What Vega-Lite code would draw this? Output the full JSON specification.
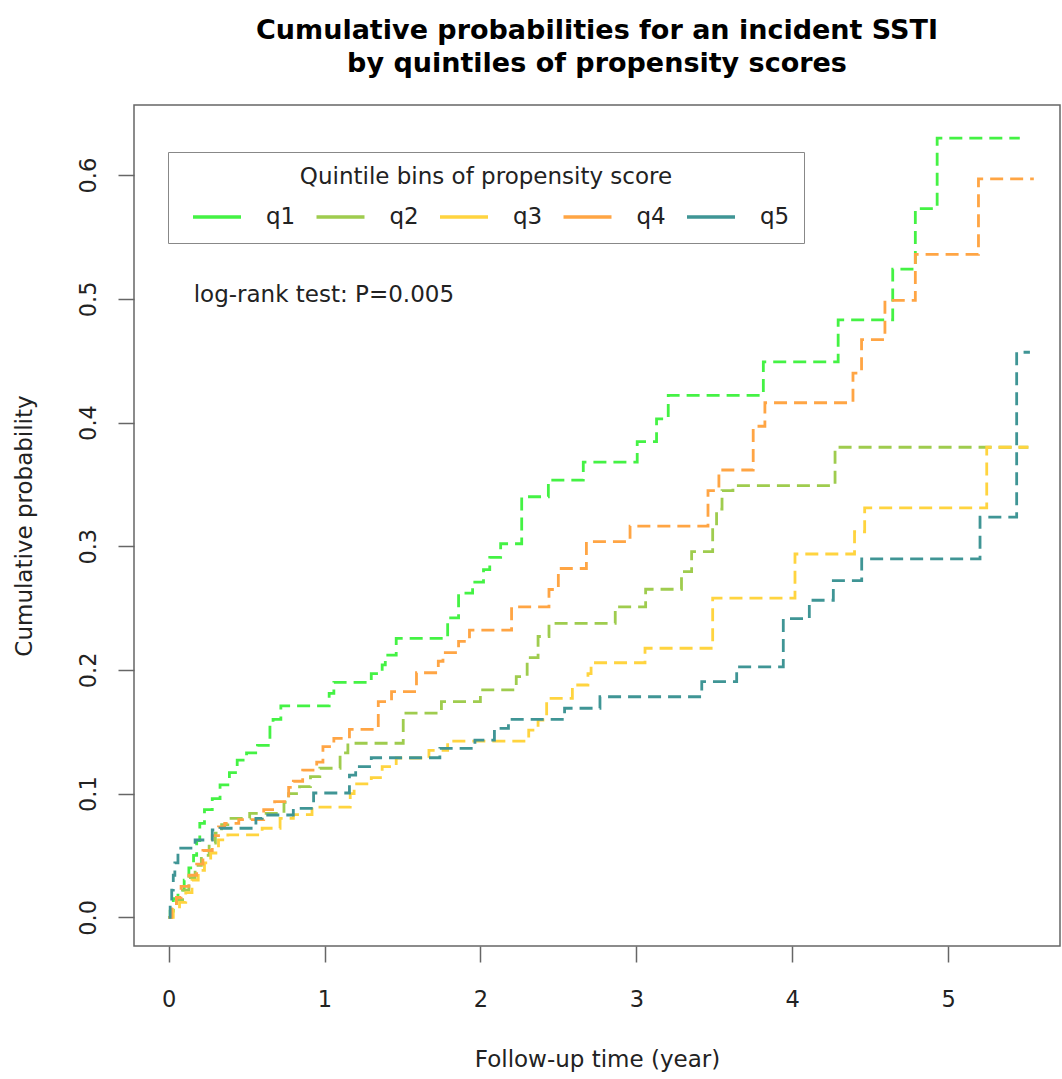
{
  "$schema": "https://vega.github.io/schema/vega-lite/v6.json",
  "autosize": "none",
  "width": 926,
  "height": 841,
  "padding": {"left": 134, "top": 105, "right": 2, "bottom": 133},
  "background": "white",
  "title": {
    "text": ["Cumulative probabilities for an incident SSTI", "by quintiles of propensity scores"],
    "font": "DejaVu Sans",
    "fontSize": 27,
    "fontWeight": "bold",
    "color": "#000000",
    "anchor": "middle",
    "lineHeight": 33,
    "offset": 27
  },
  "config": {
    "font": "DejaVu Sans",
    "view": {"stroke": "#666666", "strokeWidth": 1.5},
    "axis": {"grid": false, "domain": false, "labelFont": "DejaVu Sans", "titleFont": "DejaVu Sans", "labelColor": "#222222", "titleColor": "#222222", "tickColor": "#666666", "tickWidth": 1.5, "labelFontSize": 22.5, "titleFontSize": 23, "titleFontWeight": "normal", "labelFlush": false, "labelOverlap": false}
  },
  "layer": [
    {
      "data": {"values": [
        {"t":0,"p":0,"g":"q1"},{"t":0.01,"p":0.005,"g":"q1"},{"t":0.03,"p":0.015,"g":"q1"},{"t":0.06,"p":0.022,"g":"q1"},{"t":0.1,"p":0.03,"g":"q1"},{"t":0.13,"p":0.04,"g":"q1"},{"t":0.16,"p":0.05,"g":"q1"},{"t":0.18,"p":0.062,"g":"q1"},{"t":0.2,"p":0.076,"g":"q1"},{"t":0.23,"p":0.087,"g":"q1"},{"t":0.28,"p":0.096,"g":"q1"},{"t":0.33,"p":0.107,"g":"q1"},{"t":0.39,"p":0.117,"g":"q1"},{"t":0.44,"p":0.127,"g":"q1"},{"t":0.5,"p":0.133,"g":"q1"},{"t":0.57,"p":0.139,"g":"q1"},{"t":0.65,"p":0.155,"g":"q1"},{"t":0.67,"p":0.16,"g":"q1"},{"t":0.72,"p":0.171,"g":"q1"},{"t":1.03,"p":0.181,"g":"q1"},{"t":1.06,"p":0.19,"g":"q1"},{"t":1.3,"p":0.197,"g":"q1"},{"t":1.37,"p":0.204,"g":"q1"},{"t":1.39,"p":0.212,"g":"q1"},{"t":1.46,"p":0.2255,"g":"q1"},{"t":1.79,"p":0.242,"g":"q1"},{"t":1.86,"p":0.262,"g":"q1"},{"t":1.95,"p":0.271,"g":"q1"},{"t":2.02,"p":0.281,"g":"q1"},{"t":2.06,"p":0.291,"g":"q1"},{"t":2.13,"p":0.302,"g":"q1"},{"t":2.265,"p":0.34,"g":"q1"},{"t":2.436,"p":0.3535,"g":"q1"},{"t":2.66,"p":0.368,"g":"q1"},{"t":3.006,"p":0.3845,"g":"q1"},{"t":3.13,"p":0.403,"g":"q1"},{"t":3.205,"p":0.422,"g":"q1"},{"t":3.815,"p":0.449,"g":"q1"},{"t":4.295,"p":0.483,"g":"q1"},{"t":4.645,"p":0.524,"g":"q1"},{"t":4.79,"p":0.573,"g":"q1"},{"t":4.93,"p":0.63,"g":"q1"},{"t":5.46,"p":0.63,"g":"q1"},
        {"t":0,"p":0,"g":"q2"},{"t":0.02,"p":0.006,"g":"q2"},{"t":0.05,"p":0.014,"g":"q2"},{"t":0.09,"p":0.022,"g":"q2"},{"t":0.13,"p":0.032,"g":"q2"},{"t":0.17,"p":0.042,"g":"q2"},{"t":0.21,"p":0.05,"g":"q2"},{"t":0.26,"p":0.06,"g":"q2"},{"t":0.3,"p":0.068,"g":"q2"},{"t":0.34,"p":0.075,"g":"q2"},{"t":0.38,"p":0.08,"g":"q2"},{"t":0.52,"p":0.084,"g":"q2"},{"t":0.74,"p":0.093,"g":"q2"},{"t":0.77,"p":0.1,"g":"q2"},{"t":0.84,"p":0.1056,"g":"q2"},{"t":0.91,"p":0.1137,"g":"q2"},{"t":0.97,"p":0.1205,"g":"q2"},{"t":1.1,"p":0.133,"g":"q2"},{"t":1.15,"p":0.1407,"g":"q2"},{"t":1.505,"p":0.165,"g":"q2"},{"t":1.75,"p":0.1743,"g":"q2"},{"t":2.0,"p":0.1838,"g":"q2"},{"t":2.23,"p":0.1945,"g":"q2"},{"t":2.3,"p":0.21,"g":"q2"},{"t":2.37,"p":0.227,"g":"q2"},{"t":2.44,"p":0.2377,"g":"q2"},{"t":2.865,"p":0.251,"g":"q2"},{"t":3.06,"p":0.2652,"g":"q2"},{"t":3.29,"p":0.2794,"g":"q2"},{"t":3.355,"p":0.2956,"g":"q2"},{"t":3.49,"p":0.315,"g":"q2"},{"t":3.515,"p":0.33,"g":"q2"},{"t":3.55,"p":0.345,"g":"q2"},{"t":3.62,"p":0.349,"g":"q2"},{"t":4.275,"p":0.38,"g":"q2"},{"t":5.515,"p":0.38,"g":"q2"},
        {"t":0,"p":0,"g":"q3"},{"t":0.03,"p":0.006,"g":"q3"},{"t":0.07,"p":0.012,"g":"q3"},{"t":0.11,"p":0.02,"g":"q3"},{"t":0.15,"p":0.03,"g":"q3"},{"t":0.19,"p":0.038,"g":"q3"},{"t":0.23,"p":0.044,"g":"q3"},{"t":0.27,"p":0.052,"g":"q3"},{"t":0.32,"p":0.0626,"g":"q3"},{"t":0.38,"p":0.0667,"g":"q3"},{"t":0.6,"p":0.072,"g":"q3"},{"t":0.715,"p":0.08,"g":"q3"},{"t":0.8,"p":0.083,"g":"q3"},{"t":0.92,"p":0.089,"g":"q3"},{"t":1.165,"p":0.1,"g":"q3"},{"t":1.19,"p":0.1078,"g":"q3"},{"t":1.3,"p":0.113,"g":"q3"},{"t":1.37,"p":0.1218,"g":"q3"},{"t":1.46,"p":0.1288,"g":"q3"},{"t":1.67,"p":0.135,"g":"q3"},{"t":1.79,"p":0.1425,"g":"q3"},{"t":2.31,"p":0.1514,"g":"q3"},{"t":2.37,"p":0.1595,"g":"q3"},{"t":2.425,"p":0.177,"g":"q3"},{"t":2.59,"p":0.1878,"g":"q3"},{"t":2.69,"p":0.197,"g":"q3"},{"t":2.71,"p":0.2058,"g":"q3"},{"t":3.056,"p":0.2175,"g":"q3"},{"t":3.49,"p":0.258,"g":"q3"},{"t":4.018,"p":0.2937,"g":"q3"},{"t":4.4,"p":0.3117,"g":"q3"},{"t":4.465,"p":0.331,"g":"q3"},{"t":5.248,"p":0.38,"g":"q3"},{"t":5.515,"p":0.38,"g":"q3"},
        {"t":0,"p":0,"g":"q4"},{"t":0.02,"p":0.008,"g":"q4"},{"t":0.05,"p":0.016,"g":"q4"},{"t":0.08,"p":0.025,"g":"q4"},{"t":0.13,"p":0.034,"g":"q4"},{"t":0.18,"p":0.043,"g":"q4"},{"t":0.22,"p":0.054,"g":"q4"},{"t":0.28,"p":0.066,"g":"q4"},{"t":0.32,"p":0.073,"g":"q4"},{"t":0.36,"p":0.076,"g":"q4"},{"t":0.45,"p":0.079,"g":"q4"},{"t":0.61,"p":0.087,"g":"q4"},{"t":0.68,"p":0.0935,"g":"q4"},{"t":0.77,"p":0.105,"g":"q4"},{"t":0.8,"p":0.11,"g":"q4"},{"t":0.86,"p":0.119,"g":"q4"},{"t":0.95,"p":0.1255,"g":"q4"},{"t":0.99,"p":0.138,"g":"q4"},{"t":1.06,"p":0.1447,"g":"q4"},{"t":1.16,"p":0.152,"g":"q4"},{"t":1.345,"p":0.1743,"g":"q4"},{"t":1.43,"p":0.1824,"g":"q4"},{"t":1.59,"p":0.1977,"g":"q4"},{"t":1.73,"p":0.207,"g":"q4"},{"t":1.76,"p":0.214,"g":"q4"},{"t":1.86,"p":0.223,"g":"q4"},{"t":1.93,"p":0.2322,"g":"q4"},{"t":2.2,"p":0.251,"g":"q4"},{"t":2.44,"p":0.265,"g":"q4"},{"t":2.5,"p":0.282,"g":"q4"},{"t":2.68,"p":0.3037,"g":"q4"},{"t":2.96,"p":0.3163,"g":"q4"},{"t":3.46,"p":0.345,"g":"q4"},{"t":3.53,"p":0.3616,"g":"q4"},{"t":3.75,"p":0.397,"g":"q4"},{"t":3.825,"p":0.416,"g":"q4"},{"t":4.39,"p":0.44,"g":"q4"},{"t":4.445,"p":0.467,"g":"q4"},{"t":4.595,"p":0.4987,"g":"q4"},{"t":4.79,"p":0.536,"g":"q4"},{"t":5.195,"p":0.597,"g":"q4"},{"t":5.55,"p":0.597,"g":"q4"},
        {"t":0,"p":0,"g":"q5"},{"t":0.01,"p":0.01,"g":"q5"},{"t":0.02,"p":0.022,"g":"q5"},{"t":0.03,"p":0.034,"g":"q5"},{"t":0.04,"p":0.044,"g":"q5"},{"t":0.06,"p":0.056,"g":"q5"},{"t":0.17,"p":0.0625,"g":"q5"},{"t":0.28,"p":0.0706,"g":"q5"},{"t":0.33,"p":0.072,"g":"q5"},{"t":0.56,"p":0.08,"g":"q5"},{"t":0.6,"p":0.0827,"g":"q5"},{"t":0.8,"p":0.088,"g":"q5"},{"t":0.93,"p":0.1005,"g":"q5"},{"t":1.16,"p":0.115,"g":"q5"},{"t":1.2,"p":0.1218,"g":"q5"},{"t":1.3,"p":0.129,"g":"q5"},{"t":1.74,"p":0.1366,"g":"q5"},{"t":1.965,"p":0.1433,"g":"q5"},{"t":2.09,"p":0.1528,"g":"q5"},{"t":2.18,"p":0.16,"g":"q5"},{"t":2.54,"p":0.169,"g":"q5"},{"t":2.767,"p":0.1783,"g":"q5"},{"t":3.42,"p":0.1905,"g":"q5"},{"t":3.644,"p":0.2025,"g":"q5"},{"t":3.943,"p":0.2414,"g":"q5"},{"t":4.11,"p":0.2563,"g":"q5"},{"t":4.264,"p":0.2722,"g":"q5"},{"t":4.446,"p":0.2898,"g":"q5"},{"t":5.205,"p":0.3236,"g":"q5"},{"t":5.44,"p":0.4568,"g":"q5"},{"t":5.525,"p":0.4568,"g":"q5"}
      ]},
      "mark": {"type": "line", "interpolate": "step-after", "strokeWidth": 2.8, "strokeDash": [13, 7]},
      "encoding": {
        "x": {"field": "t", "type": "quantitative",
          "scale": {"domain": [-0.222, 5.718], "nice": false, "zero": false},
          "axis": {"values": [0, 1, 2, 3, 4, 5], "format": "d", "tickSize": 16, "labelPadding": 26, "title": "Follow-up time (year)", "titlePadding": 38}},
        "y": {"field": "p", "type": "quantitative",
          "scale": {"domain": [-0.0232, 0.6567], "nice": false, "zero": false},
          "axis": {"values": [0, 0.1, 0.2, 0.3, 0.4, 0.5, 0.6], "format": ".1f", "tickSize": 16, "labelAngle": -90, "labelAlign": "center", "labelBaseline": "alphabetic", "labelPadding": 23, "title": "Cumulative probability", "titlePadding": 41}},
        "color": {"field": "g", "type": "nominal",
          "scale": {"domain": ["q1", "q2", "q3", "q4", "q5"], "range": ["#44F244", "#9FCC4E", "#FFD43F", "#FFA544", "#3F9595"]},
          "legend": {"orient": "none", "legendX": 34, "legendY": 47, "direction": "horizontal", "columns": 5,
            "title": "Quintile bins of propensity score", "titleAnchor": "middle", "titleFontSize": 23, "titleFontWeight": "normal", "titleFont": "DejaVu Sans", "titleColor": "#222222", "titlePadding": 2, "titleLimit": 1000,
            "labelFontSize": 23, "labelFont": "DejaVu Sans", "labelColor": "#222222", "labelOffset": 23, "labelLimit": 300,
            "symbolType": "stroke", "symbolSize": 2304, "symbolStrokeWidth": 3.5, "symbolDash": [1, 0], "symbolOffset": 9,
            "columnPadding": 9.5, "padding": 14, "strokeColor": "#888888", "fillColor": "white"}
        }
      }
    },
    {
      "data": {"values": [{"t": 0.161, "p": 0.4977, "label": "log-rank test: P=0.005"}]},
      "mark": {"type": "text", "align": "left", "baseline": "alphabetic", "fontSize": 23, "font": "DejaVu Sans", "color": "#222222"},
      "encoding": {
        "x": {"field": "t", "type": "quantitative"},
        "y": {"field": "p", "type": "quantitative"},
        "text": {"field": "label"}
      }
    }
  ]
}
